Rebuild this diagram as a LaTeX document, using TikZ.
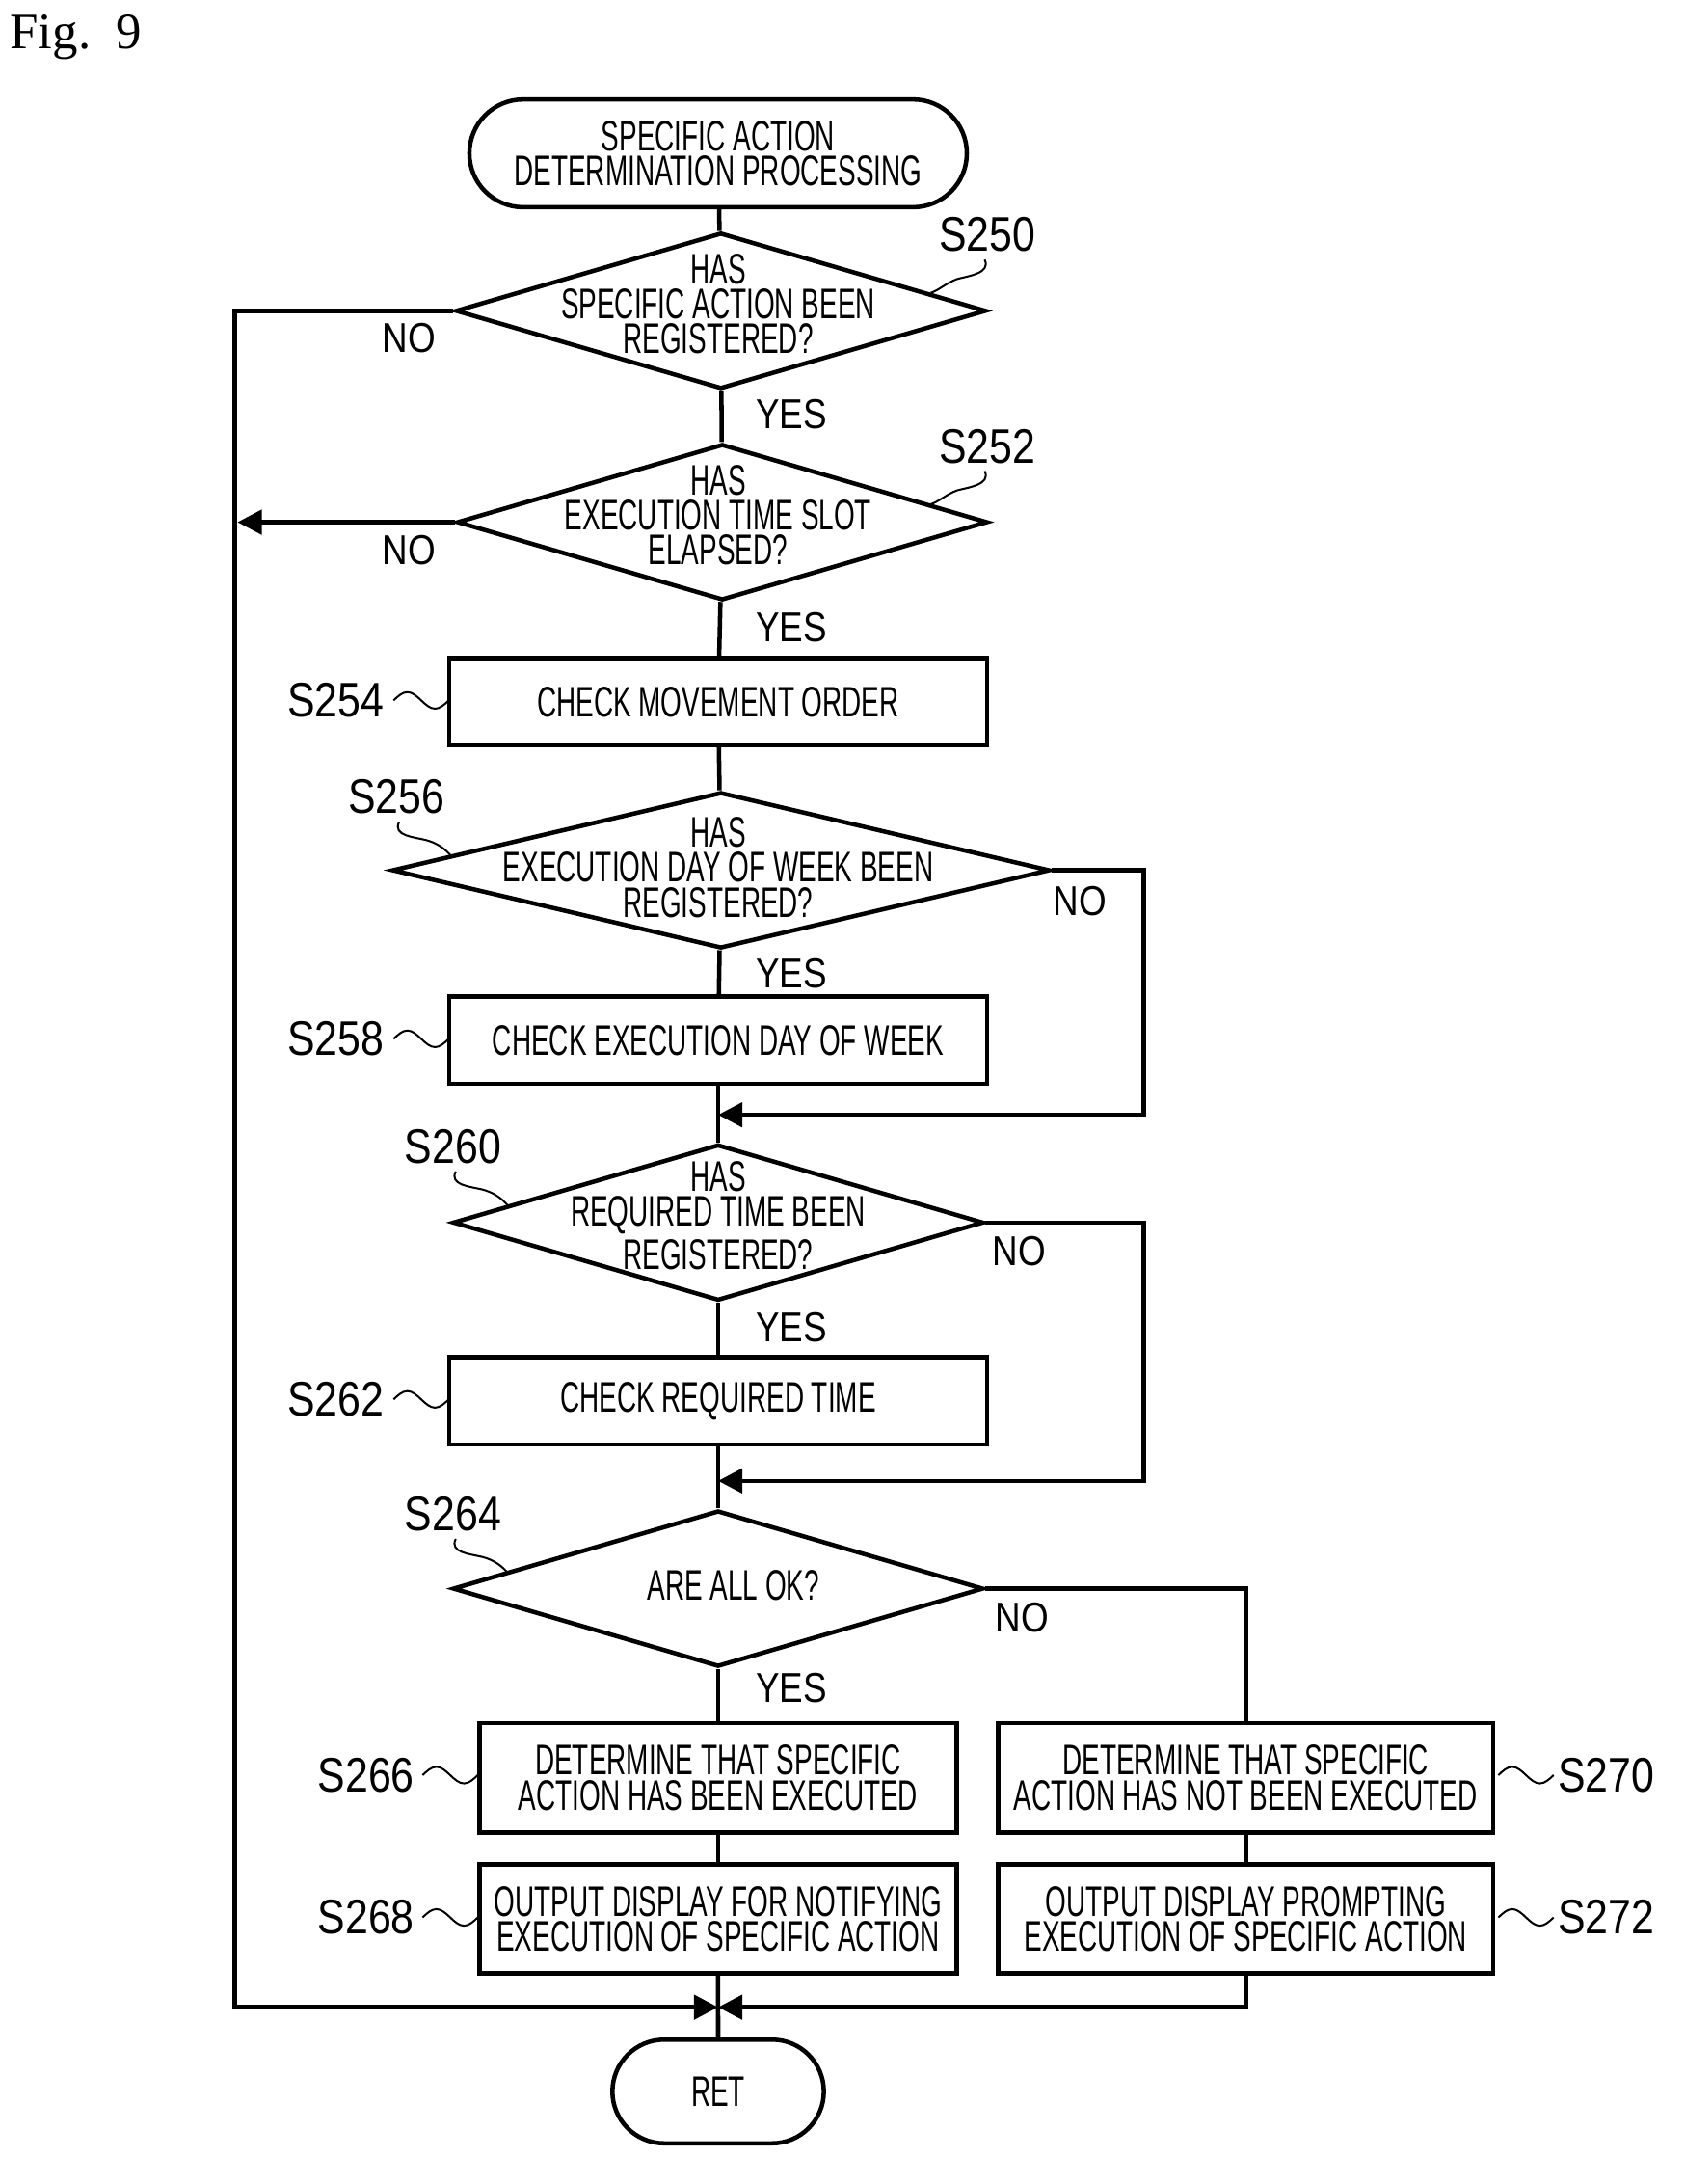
\documentclass[tikz,border=0pt]{standalone}
\usepackage{fontspec}
\setmainfont{Liberation Sans}
\newfontfamily\condfont{Liberation Sans}[FakeStretch=0.63]
\newfontfamily\stepfont{Liberation Sans}[FakeStretch=0.85]
\newfontfamily\figfont{Liberation Serif}
\usetikzlibrary{shapes.geometric,shapes.misc,arrows.meta,positioning}
\tikzset{
  box/.style={draw, line width=0.9pt, minimum width=3.89cm, minimum height=0.63cm, inner sep=0pt, align=center, font=\condfont\fontsize{8.8}{7.2}\selectfont},
  wbox/.style={box, minimum width=3.45cm, minimum height=0.79cm},
  rbox/.style={box, minimum width=3.58cm, minimum height=0.79cm},
  dec/.style={draw, diamond, line width=0.9pt, inner sep=0pt, minimum width=3.84cm, minimum height=1.13cm},
  dtext/.style={align=center, inner sep=0pt, font=\condfont\fontsize{8.8}{7.2}\selectfont},
  term/.style={draw, rounded rectangle, line width=0.9pt, align=center, inner sep=0pt, font=\condfont\fontsize{8.8}{7.2}\selectfont},
  lbl/.style={font=\stepfont\fontsize{8.6}{9}\selectfont},
  stepno/.style={font=\stepfont\fontsize{10}{10}\selectfont},
  line/.style={line width=0.9pt},
  arr/.style={line, -{Triangle[length=5pt,width=5pt]}}
}
\begin{document}
\begin{tikzpicture}[x=0.01cm,y=-0.01cm]
  \useasboundingbox (0,0) rectangle (1220,1581);
  \node[font=\figfont\fontsize{10.5}{11}\selectfont] (fig) at (55,27) {Fig.\ \ 9};

  % main column
  \node[term, minimum width=3.6cm, minimum height=0.78cm] (start) at (520,111) {SPECIFIC ACTION\\DETERMINATION PROCESSING};
  \node[dec] (s250) at (522,225) {};
  \node[dtext] (t250) at (520,220) {HAS\\SPECIFIC ACTION BEEN\\REGISTERED?};
  \node[dec] (s252) at (523,378) {};
  \node[dtext] (t252) at (520,373) {HAS\\EXECUTION TIME SLOT\\ELAPSED?};
  \node[box] (s254) at (520,508) {CHECK MOVEMENT ORDER};
  \node[dec, minimum width=4.76cm] (s256) at (522,630) {};
  \node[dtext] (t256) at (520,628) {HAS\\EXECUTION DAY OF WEEK BEEN\\REGISTERED?};
  \node[box] (s258) at (520,753) {CHECK EXECUTION DAY OF WEEK};
  \node[dec] (s260) at (520,885) {};
  \node[dtext] (t260) at (520,880) {HAS\\REQUIRED TIME BEEN\\REGISTERED?};
  \node[box] (s262) at (520,1014) {CHECK REQUIRED TIME};
  \node[dec] (s264) at (520,1150) {};
  \node[dtext] (t264) at (531,1148) {ARE ALL OK?};
  \node[wbox] (s266) at (520,1287) {DETERMINE THAT SPECIFIC\\ACTION HAS BEEN EXECUTED};
  \node[wbox] (s268) at (520,1389) {OUTPUT DISPLAY FOR NOTIFYING\\EXECUTION OF SPECIFIC ACTION};
  \node[rbox] (s270) at (902,1287) {DETERMINE THAT SPECIFIC\\ACTION HAS NOT BEEN EXECUTED};
  \node[rbox] (s272) at (902,1389) {OUTPUT DISPLAY PROMPTING\\EXECUTION OF SPECIFIC ACTION};
  \node[term, minimum width=1.53cm, minimum height=0.75cm] (ret) at (520,1514) {RET};

  \coordinate (join) at (520,1453);
  \coordinate (m1) at (520,807);
  \coordinate (m2) at (520,1072);

  % connectors
  \draw[line] (start) -- (s250);
  \draw[line] (s250) -- (s252);
  \draw[line] (s252) -- (s254);
  \draw[line] (s254) -- (s256);
  \draw[line] (s256) -- (s258);
  \draw[line] (s258) -- (s260);
  \draw[line] (s260) -- (s262);
  \draw[line] (s262) -- (s264);
  \draw[line] (s264) -- (s266);
  \draw[line] (s266) -- (s268);
  \draw[line] (s270) -- (s272);
  \draw[line] (s268) -- (ret);
  \draw[arr] (s256.east) -- (828,630) -- (828,807) -- (m1);
  \draw[arr] (s260.east) -- (828,885) -- (828,1072) -- (m2);
  \draw[line] (s264.east) -- (902,1150) -- (s270.north);
  \draw[arr] (s250.west) -- (170,225) -- (170,1453) -- (join);
  \draw[arr] (s252.west) -- (172,378);
  \draw[arr] (s272.south) -- (902,1453) -- (join);

  % branch labels
  \node[lbl] (n1) at (296,245) {NO};
  \node[lbl] (n2) at (296,398) {NO};
  \node[lbl] (n3) at (782,652) {NO};
  \node[lbl] (n4) at (738,906) {NO};
  \node[lbl] (n5) at (740,1171) {NO};
  \node[lbl] (y1) at (573,300) {YES};
  \node[lbl] (y2) at (573,454) {YES};
  \node[lbl] (y3) at (573,705) {YES};
  \node[lbl] (y4) at (573,961) {YES};
  \node[lbl] (y5) at (573,1222) {YES};

  % step labels
  \node[stepno] (l250) at (715,170) {S250};
  \node[stepno] (l252) at (715,323) {S252};
  \node[stepno] (l254) at (243,507) {S254};
  \node[stepno] (l256) at (287,577) {S256};
  \node[stepno] (l258) at (243,752) {S258};
  \node[stepno] (l260) at (328,830) {S260};
  \node[stepno] (l262) at (243,1013) {S262};
  \node[stepno] (l264) at (328,1096) {S264};
  \node[stepno] (l266) at (265,1285) {S266};
  \node[stepno] (l268) at (265,1388) {S268};
  \node[stepno] (l270) at (1163,1285) {S270};
  \node[stepno] (l272) at (1163,1388) {S272};

  % squiggles
  \draw (713,188) .. controls (718,198) and (700,200) .. (693,202) .. controls (685,205) and (680,210) .. (674,212);
  \draw (713,341) .. controls (718,351) and (700,353) .. (693,355) .. controls (685,358) and (680,363) .. (674,365);
  \foreach \y in {507,752,1013} {
    \draw (285,\y) sin (295,\y-6) cos (305,\y) sin (315,\y+6) cos (325,\y);
  }
  \foreach \y in {1285,1388} {
    \draw (306,\y) sin (316,\y-6) cos (326,\y) sin (336,\y+6) cos (346,\y);
    \draw (1085,\y) sin (1095,\y-6) cos (1105,\y) sin (1115,\y+6) cos (1125,\y);
  }
  \draw (289,595) .. controls (284,605) and (300,606) .. (308,608) .. controls (316,610) and (322,614) .. (327,620);
  \draw (330,848) .. controls (325,858) and (341,859) .. (349,861) .. controls (357,863) and (363,867) .. (368,873);
  \draw (330,1114) .. controls (325,1124) and (341,1125) .. (349,1127) .. controls (357,1129) and (363,1133) .. (368,1139);
\end{tikzpicture}
\end{document}
